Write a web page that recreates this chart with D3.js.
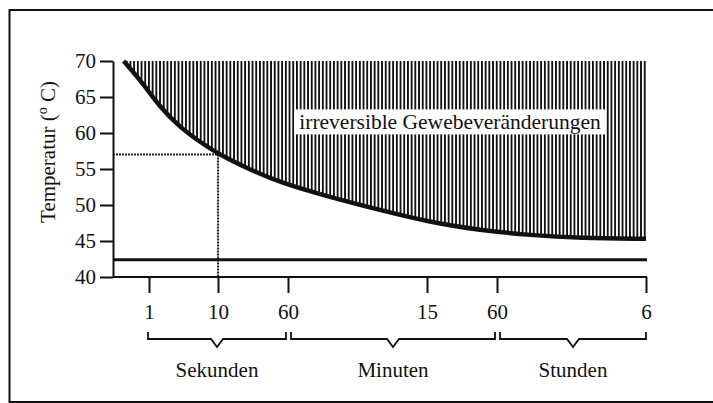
<html>
<head>
  <meta charset="utf-8">
  <script src="https://d3js.org/d3.v7.min.js"></script>
  <style>
    body { margin: 0; background: #fff; overflow: hidden; }
    text { font-family: "Liberation Serif", "DejaVu Serif", serif; fill: #111; }
  </style>
</head>
<body>
<svg id="chart"></svg>
<script>
// data
var yTicks = [40, 45, 50, 55, 60, 65, 70];
var xTickTimes = [1, 10, 60, 900, 3600, 21600];          // in seconds
var xTickLabels = ["1", "10", "60", "15", "60", "6"];
var curveTime = [0.43, 0.82, 1.44, 2.81, 5.5, 10, 21, 49, 136, 360, 955, 2565, 5380, 9800, 21600];
var curveTemp = [70, 66.9, 63.6, 60.8, 58.75, 57.1, 55.1, 53.1, 51.1, 49.3, 47.6, 46.5, 45.8, 45.4, 45.3];
var thresholdTemp = 42.4;
var markTime = 10, markTemp = 57;
var groupLabels = ["Sekunden", "Minuten", "Stunden"];
var groupFrom = [1, 60, 3600];
var groupTo = [60, 3600, 21600];
var areaLabel = "irreversible Gewebeveränderungen";

var w = 713, h = 403;
var svg = d3.select("#chart").attr("width", w).attr("height", h);

// outer frame (right side runs off the page)
svg.append("rect")
  .attr("x", 9.5).attr("y", 10).attr("width", 720).attr("height", 392)
  .attr("fill", "none").attr("stroke", "#111").attr("stroke-width", 2);

var left = 113;
// piecewise log time axis: seconds / minutes / hours
var x = d3.scaleLog()
  .domain(xTickTimes)
  .range([149, 218, 288, 427, 497, 646]);
var y = d3.scaleLinear().domain([40, 70]).range([277, 61]);

var pts = curveTime.map(function (t, i) { return [t, curveTemp[i]]; });

// hatch pattern
var pat = svg.append("defs").append("pattern")
  .attr("id", "hatch").attr("patternUnits", "userSpaceOnUse")
  .attr("width", 3.7).attr("height", 10);
pat.append("rect").attr("x", 0).attr("y", 0).attr("width", 1.7).attr("height", 10)
  .attr("fill", "#111").attr("shape-rendering", "crispEdges");

var area = d3.area()
  .x(function (d) { return x(d[0]); })
  .y0(y(70))
  .y1(function (d) { return y(d[1]); })
  .curve(d3.curveBasis);
svg.append("path").datum(pts).attr("d", area).attr("fill", "url(#hatch)");

// label box inside the hatch
var lx = (x(60) + x(21600)) / 2 - 17, ly = y(60.5);
var lab = svg.append("text")
  .attr("x", lx).attr("y", ly)
  .attr("text-anchor", "middle")
  .attr("font-size", "21.5px")
  .text(areaLabel);
var bb = lab.node().getBBox();
svg.insert("rect", "text")
  .attr("x", bb.x - 5).attr("y", bb.y - 1).attr("width", bb.width + 9).attr("height", bb.height + 1)
  .attr("fill", "#fff");

// dashed reading lines
svg.append("path")
  .attr("d", "M" + left + "," + y(markTemp) + "H" + x(markTime) + "V" + y(40))
  .attr("fill", "none").attr("stroke", "#222").attr("stroke-width", 2)
  .attr("stroke-dasharray", "2,1");

// threshold line
svg.append("line")
  .attr("x1", left).attr("x2", x(21600) + 1)
  .attr("y1", y(thresholdTemp)).attr("y2", y(thresholdTemp))
  .attr("stroke", "#111").attr("stroke-width", 3);

// curve
var line = d3.line()
  .x(function (d) { return x(d[0]); })
  .y(function (d) { return y(d[1]); })
  .curve(d3.curveBasis);
svg.append("path").datum(pts).attr("d", line)
  .attr("fill", "none").attr("stroke", "#111").attr("stroke-width", 4.5);

// axes
var yAxis = d3.axisLeft(y).tickValues(yTicks).tickSize(13).tickSizeOuter(0).tickPadding(4);
var gy = svg.append("g").attr("transform", "translate(" + left + ",0)").call(yAxis);
gy.selectAll("text").attr("font-size", "21px").attr("font-family", "Liberation Serif").attr("fill", "#111");

var xAxis = d3.axisBottom(x).tickValues(xTickTimes)
  .tickFormat(function (d, i) { return xTickLabels[i]; })
  .tickSize(16).tickSizeOuter(0).tickPadding(11);
var gx = svg.append("g").attr("transform", "translate(0," + y(40) + ")").call(xAxis);
gx.select(".domain").attr("d", "M" + left + ",0H" + (x(21600) + 1));
gx.selectAll("text").attr("font-size", "21px").attr("font-family", "Liberation Serif").attr("fill", "#111");

[gx, gy].forEach(function (g) {
  g.selectAll("path, line").attr("stroke", "#111").attr("stroke-width", 2);
});

// y axis title
var yt = svg.append("text")
  .attr("transform", "translate(55," + 152 + ")rotate(-90)")
  .attr("text-anchor", "middle")
  .attr("font-size", "21px");
yt.append("tspan").text("Temperatur (");
yt.append("tspan").attr("font-size", "14px").attr("dy", -8).text("o");
yt.append("tspan").attr("dy", 8).text(" C)");

// braces under the time axis
var braceTop = 332, braceY = 339, notch = 8;
groupLabels.forEach(function (name, i) {
  var x1 = x(groupFrom[i]) + (i > 0 ? 3 : -1);
  var x2 = x(groupTo[i]) - (i < 2 ? 2 : 0);
  var cx = (x1 + x2) / 2;
  svg.append("path")
    .attr("d", "M" + x1 + "," + braceTop + "V" + braceY + "H" + (cx - 6) + "L" + cx + "," + (braceY + notch) +
      "L" + (cx + 6) + "," + braceY + "H" + x2 + "V" + braceTop)
    .attr("fill", "none").attr("stroke", "#111").attr("stroke-width", 1.8);
  svg.append("text")
    .attr("x", cx).attr("y", 377)
    .attr("text-anchor", "middle")
    .attr("font-size", "21px")
    .text(name);
});
</script>
</body>
</html>
